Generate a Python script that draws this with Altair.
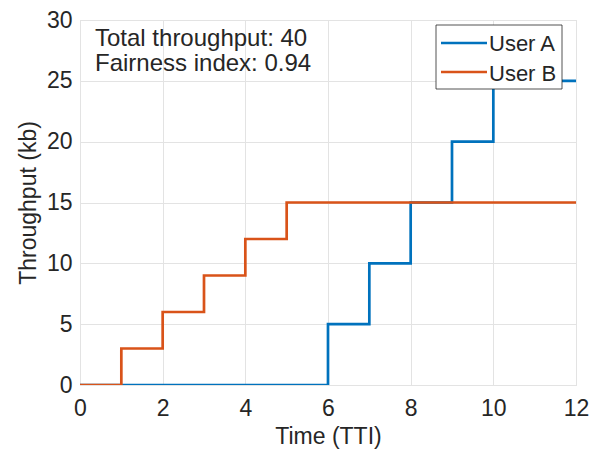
import altair as alt
import pandas as pd

time = list(range(13))
user_a = [0, 0, 0, 0, 0, 0, 5, 10, 15, 20, 25, 25, 25]
user_b = [0, 3, 6, 9, 12, 15, 15, 15, 15, 15, 15, 15, 15]
series_names = ["User A", "User B"]
series_colors = ["#0072BD", "#D95319"]
x_ticks = [0, 2, 4, 6, 8, 10, 12]
y_ticks = [0, 5, 10, 15, 20, 25, 30]
annotation = ["Total throughput: 40", "Fairness index: 0.94"]

FONT = "Arial, Liberation Sans, Helvetica, sans-serif"
TXT = "#262626"

df_a = pd.DataFrame({"t": time, "v": user_a})
df_b = pd.DataFrame({"t": time, "v": user_b})

xs = alt.Scale(domain=[0, 12], nice=False)
ys = alt.Scale(domain=[0, 30], nice=False)

xaxis = alt.Axis(values=x_ticks, title="Time (TTI)", labelFontSize=23, titleFontSize=23,
                 labelFont=FONT, titleFont=FONT, labelColor=TXT, titleColor=TXT,
                 titleFontWeight="normal", ticks=False, labelPadding=12, titlePadding=5,
                 labelFlush=False, grid=True, gridColor="#e3e3e3", domain=False)
yaxis = alt.Axis(values=y_ticks, title="Throughput (kb)", labelFontSize=23, titleFontSize=23,
                 labelFont=FONT, titleFont=FONT, labelColor=TXT, titleColor=TXT,
                 titleFontWeight="normal", ticks=False, labelPadding=8, titlePadding=6,
                 labelFlush=False, grid=True, gridColor="#e3e3e3", domain=False)

line_a = alt.Chart(df_a).mark_line(interpolate="step-after", color=series_colors[0], strokeWidth=2.7, clip=True).encode(
    x=alt.X("t:Q", scale=xs, axis=xaxis),
    y=alt.Y("v:Q", scale=ys, axis=yaxis),
)
line_b = alt.Chart(df_b).mark_line(interpolate="step-after", color=series_colors[1], strokeWidth=2.7, clip=True).encode(
    x=alt.X("t:Q", scale=xs),
    y=alt.Y("v:Q", scale=ys),
)

ann_df = pd.DataFrame({"label": annotation, "py": [26, 51]})
ann = alt.Chart(ann_df).mark_text(align="left", baseline="alphabetic", fontSize=24, font=FONT, color=TXT).encode(
    x=alt.value(15), y=alt.Y("py:Q", scale=None), text="label:N"
)

# legend
leg_box = alt.Chart(pd.DataFrame({"a": [0]})).mark_rect(fill="white", stroke="#262626", strokeWidth=0.8).encode(
    x=alt.value(356), x2=alt.value(482), y=alt.value(5), y2=alt.value(69)
)
leg_df = pd.DataFrame({"name": series_names, "color": series_colors, "py": [23, 52], "pb": [31, 61]})
leg_lines = alt.Chart(leg_df).mark_rule(strokeWidth=2.7).encode(
    x=alt.value(361), x2=alt.value(407), y=alt.Y("py:Q", scale=None),
    color=alt.Color("color:N", scale=None)
)
leg_text = alt.Chart(leg_df).mark_text(align="left", baseline="alphabetic", fontSize=22, font=FONT, color=TXT).encode(
    x=alt.value(409), y=alt.Y("pb:Q", scale=None), text="name:N"
)

chart = alt.layer(line_a, line_b, ann, leg_box, leg_lines, leg_text).properties(
    width=496, height=365,
    autosize=alt.AutoSizeParams(type="none"),
    padding={"left": 72, "top": 12, "right": 21, "bottom": 76},
).configure_view(stroke="#262626", strokeWidth=1).configure(background="white")

chart.save("out.html", embed_options={"renderer": "svg", "actions": False})
